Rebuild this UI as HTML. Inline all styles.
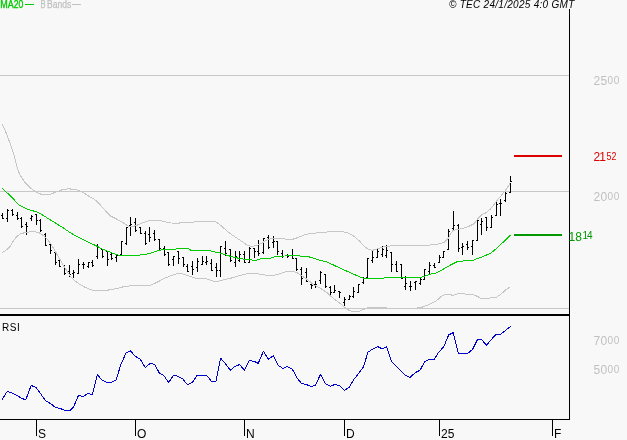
<!DOCTYPE html>
<html><head><meta charset="utf-8"><title>Chart</title>
<style>
html,body{margin:0;padding:0;background:#f8f8f8;}
body{width:627px;height:440px;overflow:hidden;}
svg{display:block;will-change:transform;}
text{font-family:"Liberation Sans",Arial,sans-serif;}
.mon{font-size:12px;fill:#000;}
</style></head><body>
<svg width="627" height="440" viewBox="0 0 627 440">
<rect x="0" y="0" width="627" height="440" fill="#f8f8f8"/>

<g shape-rendering="crispEdges" fill="#c8c8c8">
<rect x="0" y="75" width="569" height="1"/>
<rect x="0" y="191" width="569" height="1"/>
<rect x="0" y="308" width="569" height="1"/>
</g>
<g shape-rendering="crispEdges" fill="#000">
<rect x="2" y="213" width="1" height="6"/>
<rect x="1" y="215" width="1" height="1"/>
<rect x="3" y="218" width="1" height="1"/>
<rect x="7" y="209" width="1" height="13"/>
<rect x="6" y="218" width="1" height="1"/>
<rect x="8" y="210" width="1" height="1"/>
<rect x="12" y="209" width="1" height="7"/>
<rect x="11" y="210" width="1" height="1"/>
<rect x="13" y="214" width="1" height="1"/>
<rect x="17" y="212" width="1" height="8"/>
<rect x="16" y="215" width="1" height="1"/>
<rect x="18" y="218" width="1" height="1"/>
<rect x="21" y="217" width="1" height="11"/>
<rect x="20" y="218" width="1" height="1"/>
<rect x="22" y="226" width="1" height="1"/>
<rect x="26" y="222" width="1" height="13"/>
<rect x="25" y="224" width="1" height="1"/>
<rect x="27" y="226" width="1" height="1"/>
<rect x="31" y="215" width="1" height="6"/>
<rect x="30" y="218" width="1" height="1"/>
<rect x="32" y="216" width="1" height="1"/>
<rect x="36" y="214" width="1" height="11"/>
<rect x="35" y="214" width="1" height="1"/>
<rect x="37" y="220" width="1" height="1"/>
<rect x="40" y="219" width="1" height="13"/>
<rect x="39" y="220" width="1" height="1"/>
<rect x="41" y="230" width="1" height="1"/>
<rect x="45" y="233" width="1" height="13"/>
<rect x="44" y="234" width="1" height="1"/>
<rect x="46" y="245" width="1" height="1"/>
<rect x="50" y="244" width="1" height="10"/>
<rect x="49" y="244" width="1" height="1"/>
<rect x="51" y="250" width="1" height="1"/>
<rect x="55" y="252" width="1" height="13"/>
<rect x="54" y="252" width="1" height="1"/>
<rect x="56" y="262" width="1" height="1"/>
<rect x="59" y="259" width="1" height="8"/>
<rect x="58" y="260" width="1" height="1"/>
<rect x="60" y="266" width="1" height="1"/>
<rect x="64" y="265" width="1" height="10"/>
<rect x="63" y="266" width="1" height="1"/>
<rect x="65" y="273" width="1" height="1"/>
<rect x="69" y="265" width="1" height="12"/>
<rect x="68" y="271" width="1" height="1"/>
<rect x="70" y="274" width="1" height="1"/>
<rect x="73" y="270" width="1" height="8"/>
<rect x="72" y="273" width="1" height="1"/>
<rect x="74" y="272" width="1" height="1"/>
<rect x="78" y="259" width="1" height="15"/>
<rect x="77" y="273" width="1" height="1"/>
<rect x="79" y="264" width="1" height="1"/>
<rect x="83" y="262" width="1" height="7"/>
<rect x="82" y="264" width="1" height="1"/>
<rect x="84" y="264" width="1" height="1"/>
<rect x="88" y="262" width="1" height="6"/>
<rect x="87" y="266" width="1" height="1"/>
<rect x="89" y="262" width="1" height="1"/>
<rect x="92" y="260" width="1" height="7"/>
<rect x="91" y="262" width="1" height="1"/>
<rect x="93" y="265" width="1" height="1"/>
<rect x="97" y="244" width="1" height="15"/>
<rect x="96" y="256" width="1" height="1"/>
<rect x="98" y="247" width="1" height="1"/>
<rect x="102" y="249" width="1" height="9"/>
<rect x="101" y="249" width="1" height="1"/>
<rect x="103" y="256" width="1" height="1"/>
<rect x="107" y="251" width="1" height="15"/>
<rect x="106" y="251" width="1" height="1"/>
<rect x="108" y="259" width="1" height="1"/>
<rect x="111" y="253" width="1" height="7"/>
<rect x="110" y="254" width="1" height="1"/>
<rect x="112" y="258" width="1" height="1"/>
<rect x="116" y="255" width="1" height="7"/>
<rect x="115" y="257" width="1" height="1"/>
<rect x="117" y="255" width="1" height="1"/>
<rect x="121" y="241" width="1" height="14"/>
<rect x="120" y="254" width="1" height="1"/>
<rect x="122" y="241" width="1" height="1"/>
<rect x="126" y="227" width="1" height="18"/>
<rect x="125" y="243" width="1" height="1"/>
<rect x="127" y="227" width="1" height="1"/>
<rect x="130" y="217" width="1" height="19"/>
<rect x="129" y="225" width="1" height="1"/>
<rect x="131" y="224" width="1" height="1"/>
<rect x="135" y="218" width="1" height="14"/>
<rect x="134" y="222" width="1" height="1"/>
<rect x="136" y="230" width="1" height="1"/>
<rect x="140" y="227" width="1" height="7"/>
<rect x="139" y="227" width="1" height="1"/>
<rect x="141" y="233" width="1" height="1"/>
<rect x="145" y="231" width="1" height="14"/>
<rect x="144" y="233" width="1" height="1"/>
<rect x="146" y="243" width="1" height="1"/>
<rect x="149" y="227" width="1" height="15"/>
<rect x="148" y="234" width="1" height="1"/>
<rect x="150" y="237" width="1" height="1"/>
<rect x="154" y="230" width="1" height="11"/>
<rect x="153" y="233" width="1" height="1"/>
<rect x="155" y="239" width="1" height="1"/>
<rect x="159" y="239" width="1" height="11"/>
<rect x="158" y="239" width="1" height="1"/>
<rect x="160" y="248" width="1" height="1"/>
<rect x="164" y="246" width="1" height="10"/>
<rect x="163" y="248" width="1" height="1"/>
<rect x="165" y="254" width="1" height="1"/>
<rect x="168" y="252" width="1" height="14"/>
<rect x="167" y="252" width="1" height="1"/>
<rect x="169" y="264" width="1" height="1"/>
<rect x="173" y="256" width="1" height="10"/>
<rect x="172" y="259" width="1" height="1"/>
<rect x="174" y="256" width="1" height="1"/>
<rect x="178" y="251" width="1" height="13"/>
<rect x="177" y="251" width="1" height="1"/>
<rect x="179" y="258" width="1" height="1"/>
<rect x="183" y="257" width="1" height="10"/>
<rect x="182" y="257" width="1" height="1"/>
<rect x="184" y="264" width="1" height="1"/>
<rect x="187" y="264" width="1" height="8"/>
<rect x="186" y="266" width="1" height="1"/>
<rect x="188" y="271" width="1" height="1"/>
<rect x="192" y="261" width="1" height="14"/>
<rect x="191" y="266" width="1" height="1"/>
<rect x="193" y="269" width="1" height="1"/>
<rect x="197" y="258" width="1" height="14"/>
<rect x="196" y="267" width="1" height="1"/>
<rect x="198" y="261" width="1" height="1"/>
<rect x="202" y="256" width="1" height="9"/>
<rect x="201" y="264" width="1" height="1"/>
<rect x="203" y="261" width="1" height="1"/>
<rect x="206" y="256" width="1" height="9"/>
<rect x="205" y="262" width="1" height="1"/>
<rect x="207" y="261" width="1" height="1"/>
<rect x="211" y="259" width="1" height="12"/>
<rect x="210" y="263" width="1" height="1"/>
<rect x="212" y="270" width="1" height="1"/>
<rect x="216" y="263" width="1" height="14"/>
<rect x="215" y="267" width="1" height="1"/>
<rect x="217" y="270" width="1" height="1"/>
<rect x="220" y="246" width="1" height="31"/>
<rect x="219" y="270" width="1" height="1"/>
<rect x="221" y="246" width="1" height="1"/>
<rect x="225" y="241" width="1" height="15"/>
<rect x="224" y="248" width="1" height="1"/>
<rect x="226" y="253" width="1" height="1"/>
<rect x="230" y="249" width="1" height="13"/>
<rect x="229" y="249" width="1" height="1"/>
<rect x="231" y="260" width="1" height="1"/>
<rect x="235" y="251" width="1" height="16"/>
<rect x="234" y="262" width="1" height="1"/>
<rect x="236" y="256" width="1" height="1"/>
<rect x="239" y="251" width="1" height="11"/>
<rect x="238" y="260" width="1" height="1"/>
<rect x="240" y="254" width="1" height="1"/>
<rect x="244" y="251" width="1" height="12"/>
<rect x="243" y="254" width="1" height="1"/>
<rect x="245" y="262" width="1" height="1"/>
<rect x="249" y="247" width="1" height="16"/>
<rect x="248" y="262" width="1" height="1"/>
<rect x="250" y="248" width="1" height="1"/>
<rect x="254" y="248" width="1" height="10"/>
<rect x="253" y="248" width="1" height="1"/>
<rect x="255" y="251" width="1" height="1"/>
<rect x="258" y="240" width="1" height="16"/>
<rect x="257" y="251" width="1" height="1"/>
<rect x="259" y="253" width="1" height="1"/>
<rect x="263" y="238" width="1" height="16"/>
<rect x="262" y="252" width="1" height="1"/>
<rect x="264" y="238" width="1" height="1"/>
<rect x="268" y="235" width="1" height="14"/>
<rect x="267" y="237" width="1" height="1"/>
<rect x="269" y="247" width="1" height="1"/>
<rect x="273" y="236" width="1" height="12"/>
<rect x="272" y="242" width="1" height="1"/>
<rect x="274" y="241" width="1" height="1"/>
<rect x="277" y="241" width="1" height="14"/>
<rect x="276" y="241" width="1" height="1"/>
<rect x="278" y="251" width="1" height="1"/>
<rect x="282" y="250" width="1" height="8"/>
<rect x="281" y="253" width="1" height="1"/>
<rect x="283" y="256" width="1" height="1"/>
<rect x="287" y="254" width="1" height="4"/>
<rect x="286" y="255" width="1" height="1"/>
<rect x="288" y="256" width="1" height="1"/>
<rect x="292" y="249" width="1" height="10"/>
<rect x="291" y="255" width="1" height="1"/>
<rect x="293" y="258" width="1" height="1"/>
<rect x="296" y="258" width="1" height="13"/>
<rect x="295" y="258" width="1" height="1"/>
<rect x="297" y="269" width="1" height="1"/>
<rect x="301" y="267" width="1" height="18"/>
<rect x="300" y="269" width="1" height="1"/>
<rect x="302" y="278" width="1" height="1"/>
<rect x="306" y="268" width="1" height="14"/>
<rect x="305" y="272" width="1" height="1"/>
<rect x="307" y="281" width="1" height="1"/>
<rect x="311" y="283" width="1" height="6"/>
<rect x="310" y="284" width="1" height="1"/>
<rect x="312" y="285" width="1" height="1"/>
<rect x="315" y="281" width="1" height="7"/>
<rect x="314" y="284" width="1" height="1"/>
<rect x="316" y="284" width="1" height="1"/>
<rect x="320" y="271" width="1" height="13"/>
<rect x="319" y="280" width="1" height="1"/>
<rect x="321" y="272" width="1" height="1"/>
<rect x="325" y="274" width="1" height="14"/>
<rect x="324" y="274" width="1" height="1"/>
<rect x="326" y="286" width="1" height="1"/>
<rect x="330" y="286" width="1" height="9"/>
<rect x="329" y="287" width="1" height="1"/>
<rect x="331" y="292" width="1" height="1"/>
<rect x="334" y="285" width="1" height="8"/>
<rect x="333" y="292" width="1" height="1"/>
<rect x="335" y="290" width="1" height="1"/>
<rect x="339" y="291" width="1" height="7"/>
<rect x="338" y="291" width="1" height="1"/>
<rect x="340" y="292" width="1" height="1"/>
<rect x="344" y="297" width="1" height="9"/>
<rect x="343" y="302" width="1" height="1"/>
<rect x="345" y="299" width="1" height="1"/>
<rect x="349" y="295" width="1" height="5"/>
<rect x="348" y="299" width="1" height="1"/>
<rect x="350" y="296" width="1" height="1"/>
<rect x="353" y="287" width="1" height="11"/>
<rect x="352" y="296" width="1" height="1"/>
<rect x="354" y="291" width="1" height="1"/>
<rect x="358" y="284" width="1" height="9"/>
<rect x="357" y="292" width="1" height="1"/>
<rect x="359" y="284" width="1" height="1"/>
<rect x="363" y="277" width="1" height="7"/>
<rect x="362" y="282" width="1" height="1"/>
<rect x="364" y="278" width="1" height="1"/>
<rect x="367" y="258" width="1" height="21"/>
<rect x="366" y="277" width="1" height="1"/>
<rect x="368" y="258" width="1" height="1"/>
<rect x="372" y="251" width="1" height="12"/>
<rect x="371" y="260" width="1" height="1"/>
<rect x="373" y="257" width="1" height="1"/>
<rect x="377" y="248" width="1" height="10"/>
<rect x="376" y="257" width="1" height="1"/>
<rect x="378" y="251" width="1" height="1"/>
<rect x="382" y="246" width="1" height="11"/>
<rect x="381" y="254" width="1" height="1"/>
<rect x="383" y="249" width="1" height="1"/>
<rect x="386" y="245" width="1" height="13"/>
<rect x="385" y="255" width="1" height="1"/>
<rect x="387" y="250" width="1" height="1"/>
<rect x="391" y="252" width="1" height="20"/>
<rect x="390" y="252" width="1" height="1"/>
<rect x="392" y="264" width="1" height="1"/>
<rect x="396" y="261" width="1" height="11"/>
<rect x="395" y="264" width="1" height="1"/>
<rect x="397" y="271" width="1" height="1"/>
<rect x="401" y="264" width="1" height="15"/>
<rect x="400" y="264" width="1" height="1"/>
<rect x="402" y="278" width="1" height="1"/>
<rect x="405" y="276" width="1" height="14"/>
<rect x="404" y="286" width="1" height="1"/>
<rect x="406" y="283" width="1" height="1"/>
<rect x="410" y="281" width="1" height="10"/>
<rect x="409" y="286" width="1" height="1"/>
<rect x="411" y="286" width="1" height="1"/>
<rect x="415" y="281" width="1" height="9"/>
<rect x="414" y="282" width="1" height="1"/>
<rect x="416" y="281" width="1" height="1"/>
<rect x="420" y="278" width="1" height="7"/>
<rect x="419" y="283" width="1" height="1"/>
<rect x="421" y="279" width="1" height="1"/>
<rect x="424" y="269" width="1" height="11"/>
<rect x="423" y="279" width="1" height="1"/>
<rect x="425" y="269" width="1" height="1"/>
<rect x="429" y="262" width="1" height="12"/>
<rect x="428" y="271" width="1" height="1"/>
<rect x="430" y="265" width="1" height="1"/>
<rect x="434" y="263" width="1" height="5"/>
<rect x="433" y="265" width="1" height="1"/>
<rect x="435" y="267" width="1" height="1"/>
<rect x="439" y="255" width="1" height="8"/>
<rect x="438" y="262" width="1" height="1"/>
<rect x="440" y="257" width="1" height="1"/>
<rect x="443" y="251" width="1" height="7"/>
<rect x="442" y="257" width="1" height="1"/>
<rect x="444" y="251" width="1" height="1"/>
<rect x="448" y="229" width="1" height="21"/>
<rect x="447" y="249" width="1" height="1"/>
<rect x="449" y="231" width="1" height="1"/>
<rect x="453" y="211" width="1" height="19"/>
<rect x="452" y="228" width="1" height="1"/>
<rect x="454" y="225" width="1" height="1"/>
<rect x="458" y="224" width="1" height="28"/>
<rect x="457" y="225" width="1" height="1"/>
<rect x="459" y="248" width="1" height="1"/>
<rect x="462" y="243" width="1" height="12"/>
<rect x="461" y="247" width="1" height="1"/>
<rect x="463" y="246" width="1" height="1"/>
<rect x="467" y="241" width="1" height="9"/>
<rect x="466" y="244" width="1" height="1"/>
<rect x="468" y="247" width="1" height="1"/>
<rect x="472" y="240" width="1" height="15"/>
<rect x="471" y="246" width="1" height="1"/>
<rect x="473" y="240" width="1" height="1"/>
<rect x="477" y="219" width="1" height="22"/>
<rect x="476" y="240" width="1" height="1"/>
<rect x="478" y="220" width="1" height="1"/>
<rect x="481" y="218" width="1" height="17"/>
<rect x="480" y="224" width="1" height="1"/>
<rect x="482" y="221" width="1" height="1"/>
<rect x="486" y="217" width="1" height="14"/>
<rect x="485" y="217" width="1" height="1"/>
<rect x="487" y="227" width="1" height="1"/>
<rect x="491" y="215" width="1" height="13"/>
<rect x="490" y="227" width="1" height="1"/>
<rect x="492" y="217" width="1" height="1"/>
<rect x="496" y="201" width="1" height="15"/>
<rect x="495" y="215" width="1" height="1"/>
<rect x="497" y="204" width="1" height="1"/>
<rect x="500" y="199" width="1" height="17"/>
<rect x="499" y="203" width="1" height="1"/>
<rect x="501" y="203" width="1" height="1"/>
<rect x="505" y="192" width="1" height="10"/>
<rect x="504" y="200" width="1" height="1"/>
<rect x="506" y="193" width="1" height="1"/>
<rect x="510" y="176" width="1" height="17"/>
<rect x="509" y="192" width="1" height="1"/>
<rect x="511" y="181" width="1" height="1"/>
</g>
<rect x="510" y="182" width="1" height="1" fill="#f8f8f8" shape-rendering="crispEdges"/>
<g fill="none" stroke="#c6c6c6" stroke-width="1" stroke-linejoin="round" shape-rendering="crispEdges">
<path d="M2.1,124.1 L6.2,132.8 L10.4,144.2 L14.5,156.7 L16.6,166.0 L19.7,174.3 L24.9,182.6 L31.1,188.4 L37.3,192.9 L43.5,195.0 L49.8,194.6 L56.0,191.9 L62.2,189.8 L68.4,188.8 L74.6,189.4 L80.9,191.3 L87.1,195.0 L90.0,197.0 L94.1,199.1 L98.3,202.6 L102.4,207.4 L106.6,212.0 L110.7,216.1 L117.0,219.2 L123.2,222.9 L128.2,226.2 L133.0,226.5 L137.8,224.9 L142.5,222.9 L147.3,221.1 L153.7,220.3 L160.1,220.6 L164.9,221.7 L171.3,223.0 L177.6,223.2 L185.6,222.4 L196.8,221.9 L207.9,221.6 L211.9,221.3 L215.9,222.0 L219.5,224.4 L222.8,227.3 L226.6,230.7 L230.7,234.0 L237.0,238.1 L243.2,242.3 L247.3,245.2 L251.5,246.4 L255.6,245.8 L259.8,244.3 L263.9,241.7 L268.1,239.6 L272.2,238.5 L278.4,238.5 L284.6,239.0 L292.9,239.2 L299.2,237.1 L305.4,234.4 L311.6,233.4 L319.9,232.7 L328.2,231.9 L338.3,231.2 L346.6,232.3 L352.8,235.4 L359.0,240.6 L364.2,246.1 L368.4,249.5 L372.5,250.3 L377.7,248.8 L383.9,246.8 L392.2,245.7 L400.5,245.3 L408.8,245.3 L417.1,245.7 L425.4,245.5 L433.7,244.6 L439.9,243.7 L444.0,242.5 L448.5,238.0 L451.0,233.0 L452.9,230.6 L457.4,229.5 L461.0,228.8 L466.3,227.4 L470.0,225.8 L474.0,223.7 L478.0,218.4 L482.0,214.3 L486.0,212.8 L490.0,209.4 L493.9,204.6 L497.9,199.2 L501.2,195.5 L506.3,189.1 L510.4,182.6"/>
<path d="M2.1,252.8 L6.2,250.1 L10.4,245.9 L13.5,240.7 L16.6,236.6 L20.7,233.5 L27.0,232.4 L33.2,231.4 L38.4,232.4 L43.5,235.6 L47.7,239.7 L51.8,245.3 L56.0,252.6 L57.2,254.8 L60.6,260.6 L63.9,266.2 L67.3,271.7 L70.6,276.6 L74.0,280.1 L78.4,283.5 L84.0,286.8 L90.7,289.8 L97.4,290.6 L104.1,290.6 L110.8,289.7 L117.5,288.3 L124.5,286.5 L132.8,285.6 L141.1,285.6 L149.4,285.6 L154.6,283.5 L159.8,280.8 L166.0,277.7 L172.2,275.2 L178.4,273.1 L182.6,274.0 L188.8,276.0 L195.0,278.1 L201.2,278.3 L207.5,279.1 L212.6,280.8 L216.8,281.8 L222.0,280.2 L230.5,278.3 L239.0,275.8 L247.3,273.8 L253.5,273.4 L261.8,274.4 L270.1,275.9 L276.4,274.8 L282.6,272.8 L287.8,271.3 L292.9,271.3 L297.1,272.8 L301.4,275.5 L305.4,278.2 L309.5,281.3 L314.3,285.2 L320.7,288.4 L327.1,292.8 L333.5,298.6 L339.8,303.2 L344.6,307.3 L349.4,310.5 L354.1,312.0 L358.9,311.3 L364.5,309.2 L367.7,307.6 L383.6,307.6 L390.0,308.3 L415.0,308.3 L421.2,307.5 L427.5,305.2 L433.7,302.3 L437.8,299.7 L442.0,295.8 L446.0,294.2 L449.1,294.2 L453.1,295.5 L457.9,293.6 L462.7,293.4 L466.7,294.4 L473.1,294.4 L477.1,296.3 L481.0,298.4 L487.4,298.7 L491.4,297.6 L496.2,297.4 L500.2,294.7 L505.8,289.9 L510.5,286.7"/>
</g>
<path d="M2.1,188.4 L6.0,192.0 L10.0,195.4 L14.3,200.0 L18.6,204.6 L24.4,207.9 L30.1,210.1 L35.8,211.6 L41.6,214.4 L47.3,218.0 L53.1,221.6 L58.8,225.1 L64.5,228.7 L70.3,232.8 L76.0,235.9 L81.8,238.8 L87.5,241.6 L93.3,244.5 L97.0,246.2 L102.4,249.1 L108.7,251.6 L114.9,254.0 L119.0,255.3 L125.2,255.5 L131.5,255.5 L137.7,255.3 L143.9,254.5 L146.6,254.1 L151.9,252.8 L156.4,251.1 L159.5,250.2 L164.4,249.4 L175.8,249.2 L177.5,248.5 L188.5,248.5 L191.2,250.4 L208.5,250.4 L213.6,251.7 L220.0,253.1 L225.1,254.6 L230.2,256.2 L235.3,257.5 L240.4,258.7 L245.5,259.4 L250.0,259.4 L253.2,260.4 L256.0,260.3 L260.7,258.9 L270.5,258.2 L275.9,256.3 L284.8,256.0 L286.0,255.3 L298.0,255.3 L300.0,256.0 L308.0,256.5 L316.9,259.4 L327.1,262.0 L336.0,266.2 L345.0,270.3 L353.9,274.3 L361.5,277.6 L364.0,278.4 L366.6,278.6 L383.2,278.5 L384.6,277.5 L401.0,277.4 L413.8,277.4 L421.4,277.3 L425.3,275.9 L429.6,274.3 L435.8,273.2 L441.6,270.1 L450.2,265.2 L456.9,261.8 L460.0,261.5 L464.8,260.7 L473.4,260.2 L476.3,258.8 L483.0,256.6 L490.6,253.1 L494.4,250.2 L503.1,242.3 L510.7,234.9" fill="none" stroke="#00cc00" stroke-width="1" stroke-linejoin="round" shape-rendering="crispEdges"/>
<path d="M2.1,399.6 L7.3,391.3 L12.0,393.0 L16.6,395.1 L21.8,398.6 L25.9,399.6 L31.1,385.5 L35.7,387.2 L40.4,393.4 L45.6,400.7 L50.8,403.8 L55.6,407.5 L60.1,408.4 L64.7,410.4 L69.5,411.0 L73.6,406.9 L78.4,395.5 L82.9,396.5 L88.1,393.4 L92.3,394.5 L97.5,374.3 L101.6,379.9 L106.8,382.4 L112.0,382.0 L116.1,379.9 L120.9,364.4 L126.1,353.0 L130.4,350.9 L135.6,356.5 L140.3,359.2 L145.3,367.5 L150.1,363.4 L154.6,364.4 L159.4,373.1 L164.0,375.8 L168.7,382.6 L173.5,375.2 L178.1,376.4 L182.8,378.9 L187.4,384.7 L192.2,382.6 L197.1,375.4 L201.9,375.4 L206.7,375.4 L211.2,381.0 L216.0,381.0 L220.6,358.2 L225.3,363.4 L230.3,370.2 L234.7,366.5 L239.6,364.6 L244.5,370.4 L249.3,360.5 L254.1,361.3 L258.2,363.4 L263.4,351.3 L268.4,359.2 L273.2,355.7 L277.9,365.0 L282.9,368.5 L287.3,366.5 L292.2,369.0 L297.0,377.9 L301.6,383.5 L306.3,384.5 L311.1,386.6 L315.7,385.1 L320.4,374.3 L325.4,383.5 L330.2,386.2 L335.0,384.5 L339.5,385.5 L344.3,390.3 L349.3,387.2 L354.0,379.3 L358.8,373.1 L363.6,366.6 L367.9,352.1 L372.9,349.0 L377.6,346.5 L382.4,349.0 L386.5,346.5 L391.5,361.5 L396.3,366.0 L400.8,370.8 L405.6,375.4 L410.2,377.4 L414.9,372.9 L420.1,370.2 L424.7,361.5 L429.5,359.4 L434.2,359.4 L438.8,352.1 L443.6,347.0 L448.7,334.9 L453.2,332.7 L458.4,354.0 L463.0,353.4 L467.7,353.4 L472.5,349.4 L477.4,339.7 L481.8,339.7 L486.4,345.4 L491.2,339.7 L495.9,334.4 L500.5,334.4 L506.0,330.1 L510.7,326.2" fill="none" stroke="#0000cc" stroke-width="1" stroke-linejoin="round" shape-rendering="crispEdges"/>
<g shape-rendering="crispEdges" fill="#000">
<rect x="569" y="9" width="1" height="411"/>
<rect x="0" y="314" width="570" height="2"/>
<rect x="0" y="419" width="570" height="1"/>
<rect x="36" y="419" width="1" height="17"/>
<rect x="135" y="419" width="1" height="17"/>
<rect x="244" y="419" width="1" height="17"/>
<rect x="344" y="419" width="1" height="17"/>
<rect x="439" y="419" width="1" height="17"/>
<rect x="552" y="419" width="1" height="17"/>
</g>
<g shape-rendering="crispEdges">
<rect x="514" y="155" width="48" height="2" fill="#dd0000"/>
<rect x="514" y="234" width="48" height="2" fill="#009900"/>
</g>
<text x="0.3" y="8" font-size="10" fill="#00cc00" stroke="#00cc00" stroke-width="0.35" textLength="13.4" lengthAdjust="spacingAndGlyphs">MA</text>
<text x="13.7" y="8" font-size="10" fill="#00cc00" stroke="#00cc00" stroke-width="0.35" textLength="9.6" lengthAdjust="spacingAndGlyphs">20</text>
<rect x="25" y="4" width="9" height="1" fill="#00cc00" shape-rendering="crispEdges"/>
<text x="40.4" y="8" font-size="10" fill="#c0c0c0" stroke="#c0c0c0" stroke-width="0.25" textLength="5" lengthAdjust="spacingAndGlyphs">B</text>
<text x="47" y="8" font-size="10" fill="#c0c0c0" stroke="#c0c0c0" stroke-width="0.25" textLength="24.2" lengthAdjust="spacingAndGlyphs">Bands</text>
<rect x="72" y="4" width="9" height="1" fill="#c0c0c0" shape-rendering="crispEdges"/>
<text x="449" y="8" font-size="10" font-style="italic" fill="#000" letter-spacing="0.28">© TEC 24/1/2025 4:0 GMT</text>
<text x="2" y="331" font-size="10" fill="#000" letter-spacing="0.5">RSI</text>
<text x="593.5" y="85" fill="#c0c0c0" font-size="12">2</text>
<text x="600.4" y="85" fill="#c0c0c0" font-size="12">5</text>
<text x="607.6" y="83.5" fill="#c0c0c0" font-size="10">0</text>
<text x="613.7" y="83.5" fill="#c0c0c0" font-size="10">0</text>
<text x="593.5" y="201" fill="#c0c0c0" font-size="12">2</text>
<text x="600.4" y="201" fill="#c0c0c0" font-size="12">0</text>
<text x="607.6" y="199.5" fill="#c0c0c0" font-size="10">0</text>
<text x="613.7" y="199.5" fill="#c0c0c0" font-size="10">0</text>
<text x="593.5" y="161.4" fill="#dd0000" font-size="12">2</text>
<text x="599.2" y="161.4" fill="#dd0000" font-size="12">1</text>
<text transform="translate(606.5,159.9) scale(0.88,1)" fill="#dd0000" font-size="10">5</text>
<text transform="translate(611.4,159.9) scale(0.88,1)" fill="#dd0000" font-size="10">2</text>
<text x="568.6" y="240.6" fill="#009900" font-size="12">1</text>
<text x="575.2" y="240.6" fill="#009900" font-size="12">8</text>
<text x="582.6" y="239.1" fill="#009900" font-size="10">1</text>
<text x="587.0" y="239.1" fill="#009900" font-size="10">4</text>
<text x="593.5" y="345" fill="#c0c0c0" font-size="12">7</text>
<text x="600.4" y="345" fill="#c0c0c0" font-size="12">0</text>
<text x="607.6" y="343.5" fill="#c0c0c0" font-size="10">0</text>
<text x="613.7" y="343.5" fill="#c0c0c0" font-size="10">0</text>
<text x="593.5" y="374" fill="#c0c0c0" font-size="12">5</text>
<text x="600.4" y="374" fill="#c0c0c0" font-size="12">0</text>
<text x="607.6" y="372.5" fill="#c0c0c0" font-size="10">0</text>
<text x="613.7" y="372.5" fill="#c0c0c0" font-size="10">0</text>
<text x="38" y="438" class="mon">S</text>
<text x="137" y="438" class="mon">O</text>
<text x="246" y="438" class="mon">N</text>
<text x="346" y="438" class="mon">D</text>
<text x="441" y="438" class="mon">25</text>
<text x="554" y="438" class="mon">F</text>
</svg></body></html>
